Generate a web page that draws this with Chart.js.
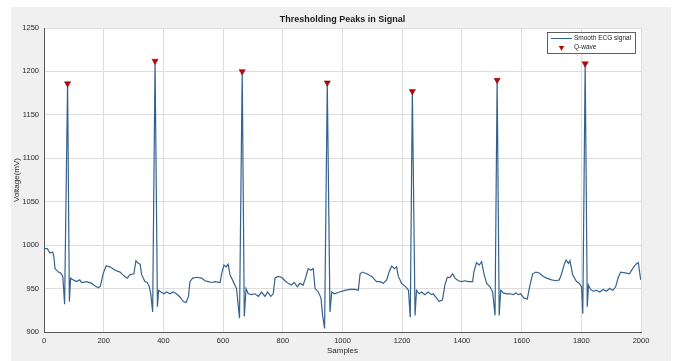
<!DOCTYPE html>
<html>
<head>
<meta charset="utf-8">
<script src="https://cdn.jsdelivr.net/npm/chart.js@4/dist/chart.umd.min.js"></script>
<style>
  html, body { margin: 0; padding: 0; background: #ffffff; }
  #wrap { width: 675px; height: 361px; position: relative; }
</style>
</head>
<body>
<div id="wrap"><canvas id="ecg" width="675" height="361"></canvas></div>
<script>
// Smoothed ECG trace (sample index, voltage in mV)
const sampleIdx = [
  0, 11, 20, 29, 33, 37, 48, 56, 63, 69, 79, 85, 89, 98, 109, 120, 126, 143, 160, 171,
  182, 189, 199, 208, 221, 238, 255, 263, 271, 279, 288, 301, 308, 316, 322, 327, 338, 346, 353, 358,
  364, 372, 380, 384, 392, 402, 411, 422, 433, 444, 456, 467, 476, 484, 489, 498, 511, 528, 539, 550,
  562, 573, 590, 595, 603, 610, 617, 623, 634, 645, 655, 664, 671, 677, 684, 696, 707, 718, 729, 740,
  749, 760, 768, 774, 783, 796, 807, 818, 829, 838, 849, 857, 868, 877, 885, 894, 902, 908, 919, 928,
  933, 940, 949, 958, 964, 973, 990, 1008, 1025, 1042, 1053, 1059, 1067, 1081, 1098, 1114, 1125, 1137, 1148, 1156,
  1165, 1174, 1181, 1187, 1198, 1212, 1221, 1227, 1234, 1243, 1248, 1257, 1265, 1276, 1287, 1298, 1304, 1315, 1324, 1335,
  1343, 1351, 1360, 1369, 1377, 1388, 1399, 1410, 1421, 1436, 1440, 1449, 1458, 1466, 1474, 1483, 1494, 1503, 1511, 1518,
  1525, 1530, 1539, 1550, 1561, 1572, 1581, 1589, 1597, 1608, 1619, 1628, 1637, 1648, 1659, 1673, 1684, 1701, 1715, 1726,
  1734, 1742, 1749, 1757, 1762, 1771, 1784, 1793, 1801, 1805, 1813, 1820, 1824, 1831, 1840, 1851, 1862, 1873, 1884, 1895,
  1906, 1915, 1924, 1932, 1947, 1961, 1972, 1983, 1991, 1999
];
const voltage = [
  996, 996, 991, 992, 987, 973, 969, 968, 964, 932, 1186, 935, 962, 960, 958, 960, 957, 958, 956, 953,
  951, 953, 968, 976, 975, 971, 969, 966, 964, 962, 966, 967, 982, 979, 978, 966, 958, 957, 952, 943,
  923, 1212, 929, 948, 946, 944, 946, 944, 946, 944, 940, 935, 934, 941, 958, 962, 963, 962, 959, 958,
  957, 958, 957, 967, 977, 975, 978, 966, 958, 950, 916, 1200, 918, 950, 944, 943, 944, 941, 946, 941,
  946, 941, 944, 962, 964, 963, 959, 956, 954, 957, 952, 956, 954, 963, 973, 971, 973, 950, 946, 939,
  920, 904, 1187, 923, 946, 944, 946, 948, 949, 949, 948, 967, 969, 967, 964, 958, 958, 956, 960, 969,
  976, 973, 975, 964, 956, 952, 948, 917, 1177, 919, 948, 944, 946, 943, 946, 943, 944, 939, 935, 937,
  954, 963, 963, 967, 962, 959, 958, 959, 958, 958, 969, 980, 977, 981, 967, 956, 952, 946, 919, 1190,
  919, 948, 945, 944, 944, 943, 945, 943, 944, 939, 938, 954, 967, 969, 968, 964, 962, 960, 959, 960,
  967, 977, 983, 979, 982, 966, 958, 956, 952, 921, 1209, 929, 954, 949, 947, 948, 946, 949, 947, 950,
  948, 952, 963, 969, 968, 967, 973, 978, 980, 960
];

// Detected Q-wave peaks above threshold
const peakIdx = [79, 372, 664, 949, 1234, 1518, 1813];
const peakVolt = [1186, 1212, 1200, 1187, 1177, 1190, 1209];

// Axis ticks
const xTicks = [0, 200, 400, 600, 800, 1000, 1200, 1400, 1600, 1800, 2000];
const yTicks = [900, 950, 1000, 1050, 1100, 1150, 1200, 1250];

const FONT = "'Liberation Sans', Arial, sans-serif";
const LINE_COLOR = '#34628f';
const PEAK_COLOR = '#b00a0a';

const signalPoints = sampleIdx.map((s, i) => ({ x: s, y: voltage[i] }));
const peakPoints = peakIdx.map((s, i) => ({ x: s, y: peakVolt[i] }));

// Grey figure panel with a white axes area
const panelBackground = {
  id: 'panelBackground',
  beforeDraw(chart) {
    const { ctx, chartArea } = chart;
    ctx.save();
    ctx.fillStyle = '#ffffff';
    ctx.fillRect(0, 0, chart.width, chart.height);
    ctx.fillStyle = '#f0f0f0';
    ctx.fillRect(11, 7, 660, chart.height - 7);
    ctx.fillStyle = '#ffffff';
    ctx.fillRect(chartArea.left, chartArea.top,
      chartArea.right - chartArea.left, chartArea.bottom - chartArea.top);
    ctx.restore();
  }
};

// Boxed legend in the upper-right corner of the axes
const boxedLegend = {
  id: 'boxedLegend',
  afterDraw(chart) {
    const { ctx, chartArea } = chart;
    const ds = chart.data.datasets;
    const w = 89, h = 22;
    const x0 = chartArea.right - 5 - w, y0 = chartArea.top + 4;
    ctx.save();
    ctx.fillStyle = '#ffffff';
    ctx.fillRect(x0, y0, w, h);
    ctx.strokeStyle = '#3a3a3a';
    ctx.lineWidth = 0.8;
    ctx.strokeRect(x0 + 0.5, y0 + 0.5, w - 1, h - 1);

    const row1 = y0 + 6.5, row2 = y0 + 15.5;
    // line sample
    ctx.strokeStyle = ds[0].borderColor;
    ctx.lineWidth = 1;
    ctx.beginPath();
    ctx.moveTo(x0 + 4, row1);
    ctx.lineTo(x0 + 25, row1);
    ctx.stroke();
    // marker sample
    const cx = x0 + 14.5, r = 3.2;
    ctx.fillStyle = ds[1].backgroundColor;
    ctx.beginPath();
    ctx.moveTo(cx - r * 0.87, row2 - r * 0.5);
    ctx.lineTo(cx + r * 0.87, row2 - r * 0.5);
    ctx.lineTo(cx, row2 + r);
    ctx.closePath();
    ctx.fill();
    // labels
    ctx.fillStyle = '#1a1a1a';
    ctx.font = '6.5px ' + FONT;
    ctx.textBaseline = 'middle';
    ctx.textAlign = 'left';
    ctx.fillText(ds[0].label, x0 + 27, row1);
    ctx.fillText(ds[1].label, x0 + 27, row2);
    ctx.restore();
  }
};

const plainLabel = v => String(v);

new Chart(document.getElementById('ecg'), {
  type: 'line',
  data: {
    datasets: [
      {
        label: 'Smooth ECG signal',
        data: signalPoints,
        borderColor: LINE_COLOR,
        borderWidth: 1.2,
        pointRadius: 0,
        tension: 0,
        fill: false,
        order: 1
      },
      {
        label: 'Q-wave',
        data: peakPoints,
        showLine: false,
        pointStyle: 'triangle',
        rotation: 180,
        pointRadius: 3.6,
        backgroundColor: PEAK_COLOR,
        borderColor: '#8a0000',
        borderWidth: 0.5,
        order: 0
      }
    ]
  },
  options: {
    responsive: false,
    animation: false,
    devicePixelRatio: 1,
    layout: { padding: { left: 0, right: 34, top: 0, bottom: 0 } },
    plugins: {
      legend: { display: false },
      tooltip: { enabled: false },
      title: {
        display: true,
        fullSize: false,
        text: 'Thresholding Peaks in Signal',
        color: '#1a1a1a',
        font: { family: FONT, size: 9, weight: 'bold', lineHeight: 1.2 },
        padding: { top: 14.6, bottom: 2.6 }
      }
    },
    scales: {
      x: {
        type: 'linear',
        min: 0,
        max: 2000,
        afterBuildTicks(scale) { scale.ticks = xTicks.map(v => ({ value: v })); },
        afterFit(scale) { scale.height = 29; },
        grid: { color: '#dedede', lineWidth: 1, drawTicks: false },
        border: { color: '#555555', width: 1 },
        ticks: {
          color: '#262626',
          font: { family: FONT, size: 7.5 },
          padding: 4,
          maxRotation: 0,
          autoSkip: false,
          callback: plainLabel
        },
        title: {
          display: true,
          text: 'Samples',
          color: '#262626',
          font: { family: FONT, size: 8, lineHeight: 1.2 },
          padding: { top: 0, bottom: 5.2 }
        }
      },
      y: {
        min: 900,
        max: 1250,
        afterBuildTicks(scale) { scale.ticks = yTicks.map(v => ({ value: v })); },
        afterFit(scale) { scale.width = 44; },
        grid: { color: '#dedede', lineWidth: 1, drawTicks: false },
        border: { color: '#555555', width: 1 },
        ticks: {
          color: '#262626',
          font: { family: FONT, size: 7.5 },
          padding: 5,
          autoSkip: false,
          callback: plainLabel
        },
        title: {
          display: true,
          text: 'Voltage(mV)',
          color: '#262626',
          font: { family: FONT, size: 8, lineHeight: 1.2 },
          padding: { top: 11.5, bottom: 0 }
        }
      }
    }
  },
  plugins: [panelBackground, boxedLegend]
});
</script>
</body>
</html>
